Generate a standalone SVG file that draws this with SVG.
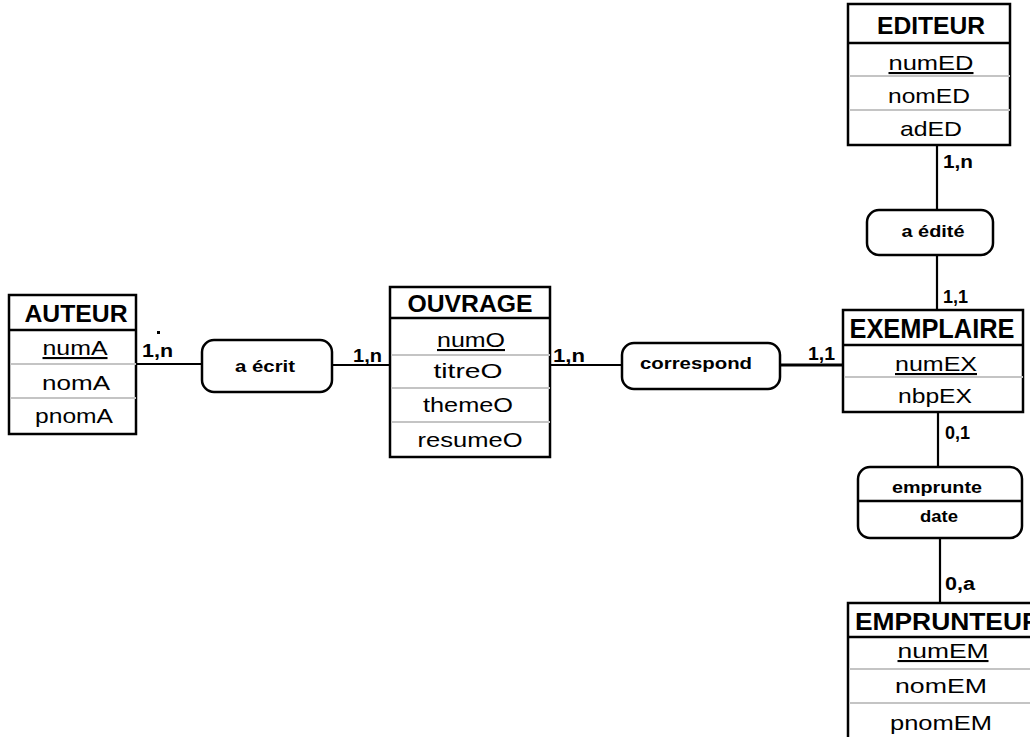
<svg xmlns="http://www.w3.org/2000/svg" width="1030" height="737" viewBox="0 0 1030 737">
  <style>
    .box { fill: #ffffff; stroke: #000000; stroke-width: 2.5; }
    .rel { fill: #ffffff; stroke: #000000; stroke-width: 2.5; }
    .hsep { stroke: #000000; stroke-width: 2.5; }
    .sep { stroke: #c4c4c4; stroke-width: 2; }
    .link { stroke: #000000; stroke-width: 2.2; fill: none; }
    .link-thick { stroke: #000000; stroke-width: 3; fill: none; }
    text { font-family: "Liberation Sans", Arial, sans-serif; fill: #000000; }
    .title { font-size: 24px; font-weight: bold; text-anchor: middle; }
    .attr { font-size: 21px; text-anchor: middle; }
    .key { text-decoration: underline; }
    .rlabel { font-size: 16px; font-weight: bold; text-anchor: middle; }
    .card { font-size: 18px; font-weight: bold; }
  </style>

  <!-- connectors -->
  <g id="connectors">
    <line class="link" x1="136" y1="364" x2="202" y2="364"/>
    <line class="link" x1="332" y1="365" x2="390" y2="365"/>
    <line class="link" x1="550" y1="365" x2="622" y2="365"/>
    <line class="link-thick" x1="780" y1="365" x2="843" y2="365"/>
    <line class="link" x1="937" y1="145" x2="937" y2="210"/>
    <line class="link" x1="937" y1="255" x2="937" y2="310"/>
    <line class="link" x1="938" y1="412" x2="938" y2="467"/>
    <line class="link" x1="940" y1="538" x2="940" y2="603"/>

    <!-- cardinalities -->
    <text class="card" x="142" y="357" textLength="31" lengthAdjust="spacingAndGlyphs">1,n</text>
    <rect x="157" y="331" width="3" height="3" fill="#000000"/>
    <text class="card" x="353" y="362" textLength="29" lengthAdjust="spacingAndGlyphs">1,n</text>
    <text class="card" x="553" y="362" textLength="32" lengthAdjust="spacingAndGlyphs">1,n</text>
    <text class="card" x="808" y="360" textLength="27" lengthAdjust="spacingAndGlyphs">1,1</text>
    <text class="card" x="943" y="168" textLength="30" lengthAdjust="spacingAndGlyphs">1,n</text>
    <text class="card" x="943" y="303" textLength="25" lengthAdjust="spacingAndGlyphs">1,1</text>
    <text class="card" x="945" y="439" textLength="25" lengthAdjust="spacingAndGlyphs">0,1</text>
    <text class="card" x="945" y="590" textLength="30" lengthAdjust="spacingAndGlyphs">0,a</text>
  </g>

  <!-- entity AUTEUR -->
  <g id="auteur">
    <rect class="box" x="9" y="295" width="127" height="139"/>
    <line class="hsep" x1="9" y1="330" x2="136" y2="330"/>
    <line class="sep" x1="10" y1="364" x2="136" y2="364"/>
    <line class="sep" x1="10" y1="398" x2="136" y2="398"/>
    <text class="title" x="76" y="322" textLength="103" lengthAdjust="spacingAndGlyphs">AUTEUR</text>
    <text class="attr key" x="75" y="355" textLength="65" lengthAdjust="spacingAndGlyphs">numA</text>
    <text class="attr" x="76" y="390" textLength="68" lengthAdjust="spacingAndGlyphs">nomA</text>
    <text class="attr" x="74" y="423" textLength="78" lengthAdjust="spacingAndGlyphs">pnomA</text>
  </g>

  <!-- relation a écrit -->
  <g id="a-ecrit">
    <rect class="rel" x="202" y="340" width="130" height="52" rx="12" ry="12"/>
    <text class="rlabel" x="265" y="372" textLength="60" lengthAdjust="spacingAndGlyphs">a écrit</text>
  </g>

  <!-- entity OUVRAGE -->
  <g id="ouvrage">
    <rect class="box" x="390" y="287" width="160" height="170"/>
    <line class="hsep" x1="390" y1="318" x2="550" y2="318"/>
    <line class="sep" x1="391" y1="355" x2="550" y2="355"/>
    <line class="sep" x1="391" y1="388" x2="550" y2="388"/>
    <line class="sep" x1="391" y1="422" x2="550" y2="422"/>
    <text class="title" x="470" y="312" textLength="125" lengthAdjust="spacingAndGlyphs">OUVRAGE</text>
    <text class="attr key" x="471" y="347" textLength="68" lengthAdjust="spacingAndGlyphs">numO</text>
    <text class="attr" x="468" y="378" textLength="69" lengthAdjust="spacingAndGlyphs">titreO</text>
    <text class="attr" x="468" y="412" textLength="90" lengthAdjust="spacingAndGlyphs">themeO</text>
    <text class="attr" x="470" y="447" textLength="105" lengthAdjust="spacingAndGlyphs">resumeO</text>
  </g>

  <!-- relation correspond -->
  <g id="correspond">
    <rect class="rel" x="622" y="343" width="158" height="46" rx="12" ry="12"/>
    <text class="rlabel" x="696" y="369" textLength="112" lengthAdjust="spacingAndGlyphs">correspond</text>
  </g>

  <!-- entity EDITEUR -->
  <g id="editeur">
    <rect class="box" x="848" y="4" width="162" height="141"/>
    <line class="hsep" x1="848" y1="43" x2="1010" y2="43"/>
    <line class="sep" x1="849" y1="76" x2="1010" y2="76"/>
    <line class="sep" x1="849" y1="110" x2="1010" y2="110"/>
    <text class="title" x="931" y="34" textLength="108" lengthAdjust="spacingAndGlyphs">EDITEUR</text>
    <text class="attr key" x="931" y="70" textLength="85" lengthAdjust="spacingAndGlyphs">numED</text>
    <text class="attr" x="929" y="103" textLength="82" lengthAdjust="spacingAndGlyphs">nomED</text>
    <text class="attr" x="931" y="136" textLength="62" lengthAdjust="spacingAndGlyphs">adED</text>
  </g>

  <!-- relation a édité -->
  <g id="a-edite">
    <rect class="rel" x="867" y="210" width="126" height="45" rx="12" ry="12"/>
    <text class="rlabel" x="933" y="237" textLength="63" lengthAdjust="spacingAndGlyphs">a édité</text>
  </g>

  <!-- entity EXEMPLAIRE -->
  <g id="exemplaire">
    <rect class="box" x="843" y="310" width="180" height="102"/>
    <line class="hsep" x1="843" y1="345" x2="1023" y2="345"/>
    <line class="sep" x1="844" y1="377" x2="1023" y2="377"/>
    <text class="title" x="932" y="338" textLength="165" lengthAdjust="spacingAndGlyphs" style="font-size:27px">EXEMPLAIRE</text>
    <text class="attr key" x="936" y="371" textLength="82" lengthAdjust="spacingAndGlyphs">numEX</text>
    <text class="attr" x="935" y="403" textLength="74" lengthAdjust="spacingAndGlyphs">nbpEX</text>
  </g>

  <!-- relation emprunte (with attribute) -->
  <g id="emprunte">
    <rect class="rel" x="858" y="467" width="164" height="71" rx="12" ry="12"/>
    <line class="hsep" x1="858" y1="501" x2="1022" y2="501"/>
    <text class="rlabel" x="937" y="493" textLength="90" lengthAdjust="spacingAndGlyphs">emprunte</text>
    <text class="rlabel" x="939" y="522" textLength="38" lengthAdjust="spacingAndGlyphs">date</text>
  </g>

  <!-- entity EMPRUNTEUR -->
  <g id="emprunteur">
    <rect class="box" x="848" y="603" width="196" height="150"/>
    <line class="hsep" x1="848" y1="637" x2="1044" y2="637"/>
    <line class="sep" x1="849" y1="669" x2="1044" y2="669"/>
    <line class="sep" x1="849" y1="703" x2="1044" y2="703"/>
    <text class="title" x="855" y="630" textLength="186" lengthAdjust="spacingAndGlyphs" style="text-anchor:start">EMPRUNTEUR</text>
    <text class="attr key" x="943" y="658" textLength="91" lengthAdjust="spacingAndGlyphs">numEM</text>
    <text class="attr" x="941" y="693" textLength="92" lengthAdjust="spacingAndGlyphs">nomEM</text>
    <text class="attr" x="941" y="730" textLength="102" lengthAdjust="spacingAndGlyphs">pnomEM</text>
  </g>
</svg>
